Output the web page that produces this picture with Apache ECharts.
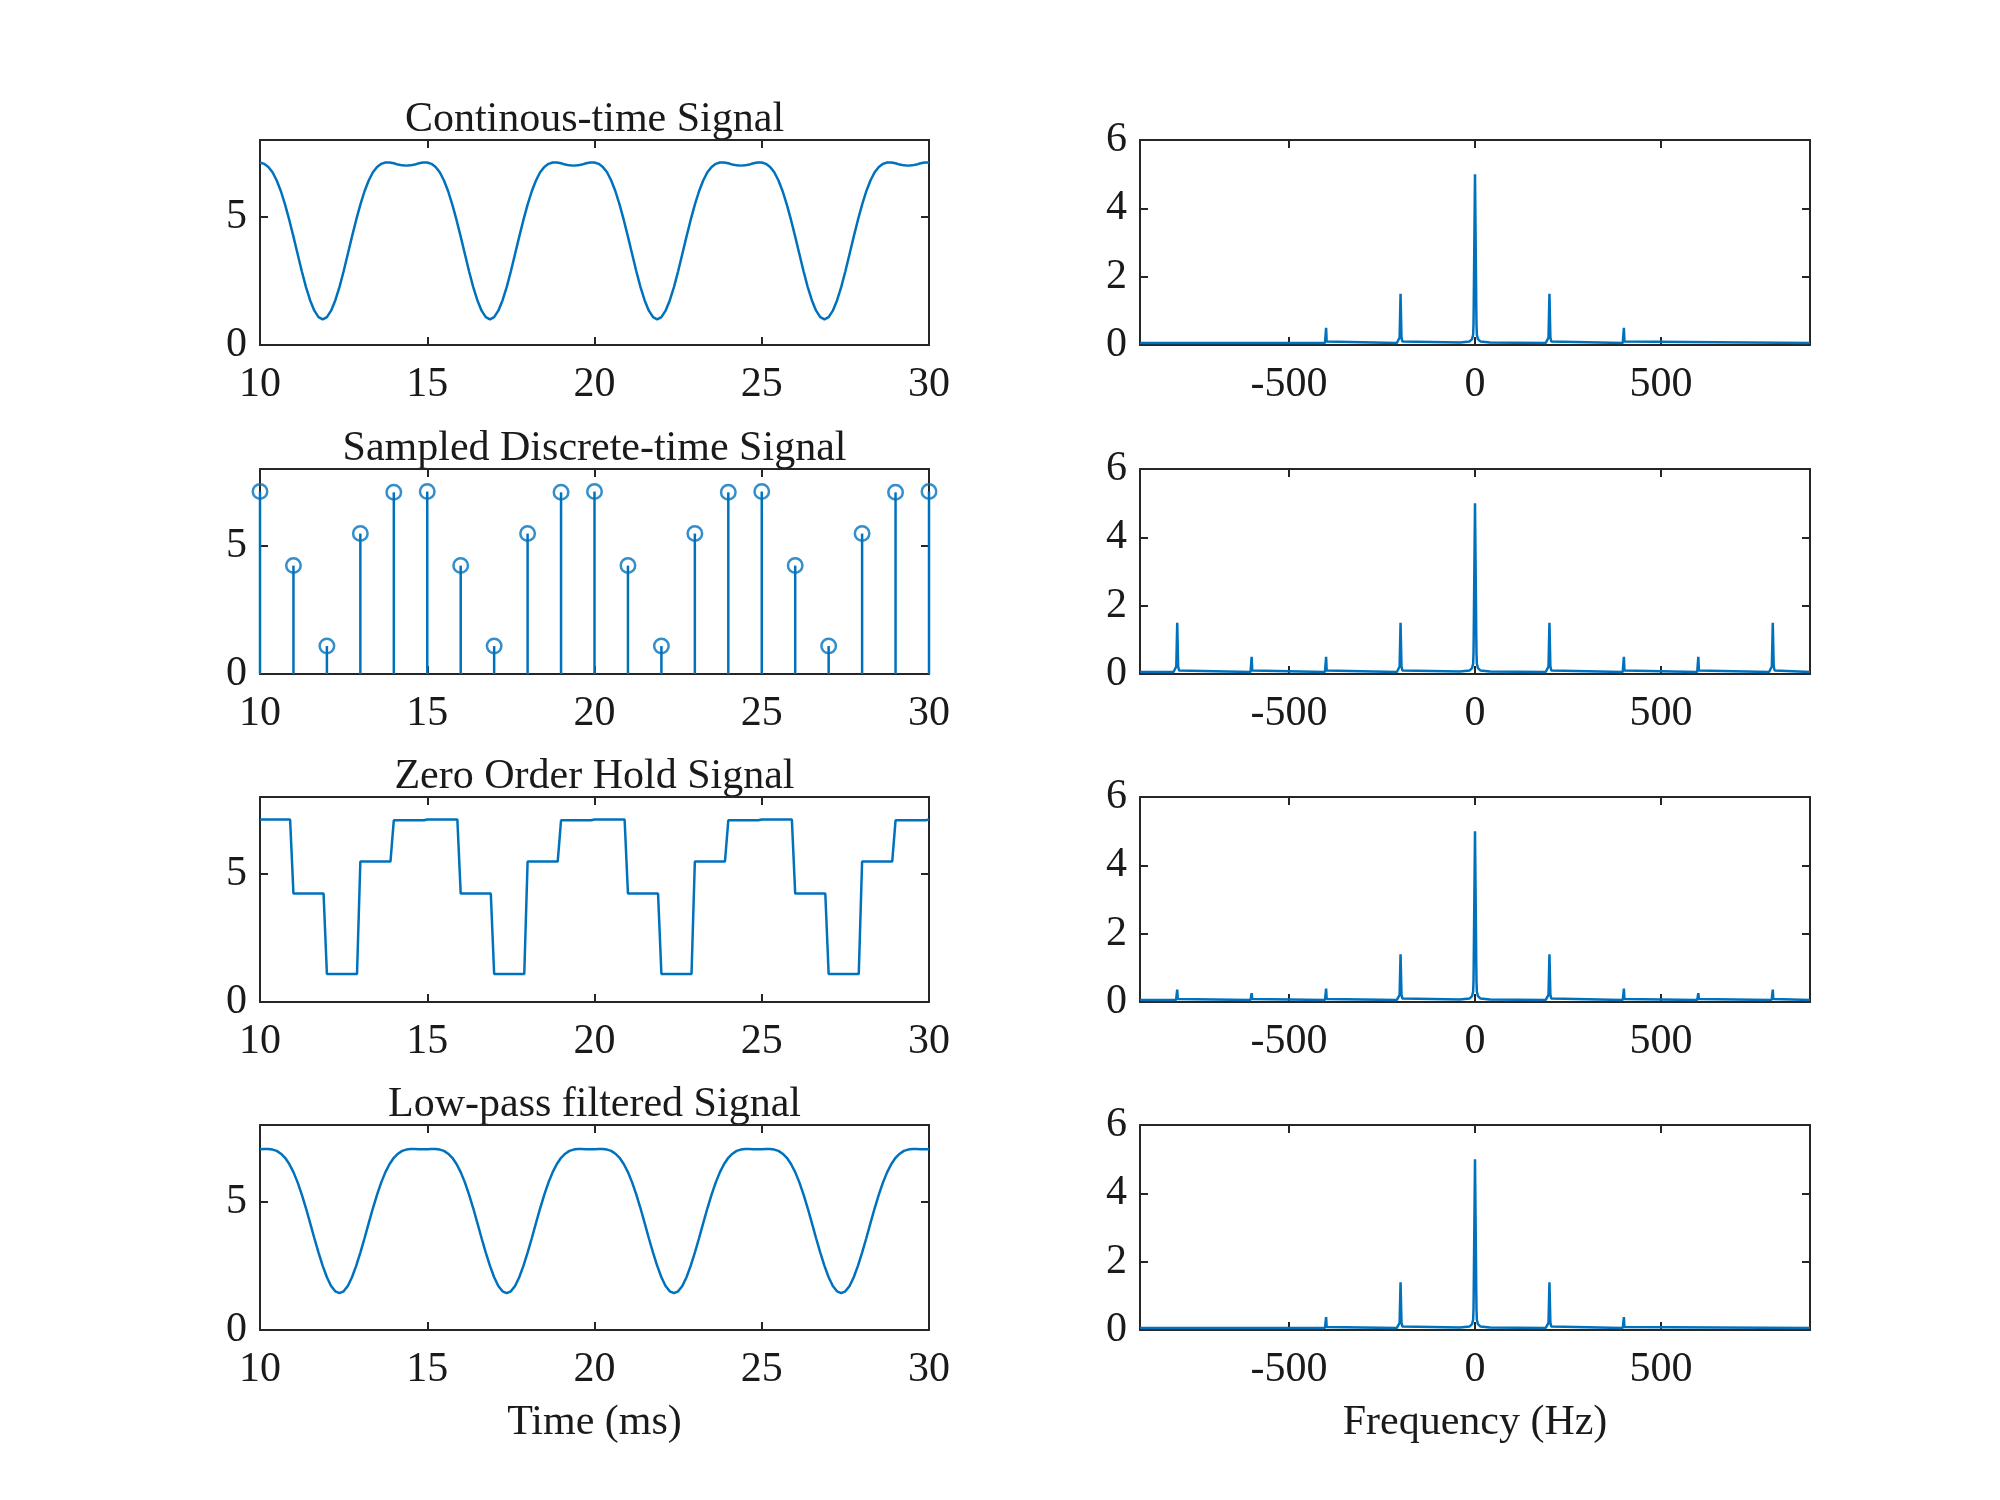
<!DOCTYPE html>
<html><head><meta charset="utf-8">
<script src="https://cdn.jsdelivr.net/npm/echarts@6/dist/echarts.min.js"></script>
<style>html,body{margin:0;padding:0;background:#fff}#c{width:2000px;height:1500px}</style>
</head><body><div id="c"></div>
<script>
// ---------- text ----------
const plotTitles = ['Continous-time Signal', 'Sampled Discrete-time Signal', 'Zero Order Hold Signal', 'Low-pass filtered Signal'];
const xLabelLeft = 'Time (ms)';
const xLabelRight = 'Frequency (Hz)';

// ---------- tick labels ----------
const timeTicks = [10, 15, 20, 25, 30];
const freqTicks = [-500, 0, 500];
const leftAmpTicks = [0, 5];
const rightAmpTicks = [0, 2, 4, 6];

// ---------- fine time grid (ms) shared by continuous and filtered signals ----------
const tFine = [
10,10.125,10.25,10.375,10.5,10.625,10.75,10.875,
11,11.125,11.25,11.375,11.5,11.625,11.75,11.875,
12,12.125,12.25,12.375,12.5,12.625,12.75,12.875,
13,13.125,13.25,13.375,13.5,13.625,13.75,13.875,
14,14.125,14.25,14.375,14.5,14.625,14.75,14.875,
15,15.125,15.25,15.375,15.5,15.625,15.75,15.875,
16,16.125,16.25,16.375,16.5,16.625,16.75,16.875,
17,17.125,17.25,17.375,17.5,17.625,17.75,17.875,
18,18.125,18.25,18.375,18.5,18.625,18.75,18.875,
19,19.125,19.25,19.375,19.5,19.625,19.75,19.875,
20,20.125,20.25,20.375,20.5,20.625,20.75,20.875,
21,21.125,21.25,21.375,21.5,21.625,21.75,21.875,
22,22.125,22.25,22.375,22.5,22.625,22.75,22.875,
23,23.125,23.25,23.375,23.5,23.625,23.75,23.875,
24,24.125,24.25,24.375,24.5,24.625,24.75,24.875,
25,25.125,25.25,25.375,25.5,25.625,25.75,25.875,
26,26.125,26.25,26.375,26.5,26.625,26.75,26.875,
27,27.125,27.25,27.375,27.5,27.625,27.75,27.875,
28,28.125,28.25,28.375,28.5,28.625,28.75,28.875,
29,29.125,29.25,29.375,29.5,29.625,29.75,29.875,
30];

// continuous-time signal values
const contV = [
7.12,7.07,6.95,6.74,6.42,6.00,5.48,4.88,4.23,3.55,2.88,2.26,1.74,1.34,1.09,1.00,1.09,1.34,1.74,2.26,
2.88,3.55,4.23,4.88,5.48,6.00,6.42,6.74,6.95,7.07,7.12,7.12,7.09,7.04,7.01,7.00,7.01,7.04,7.09,7.12,
7.12,7.07,6.95,6.74,6.42,6.00,5.48,4.88,4.23,3.55,2.88,2.26,1.74,1.34,1.09,1.00,1.09,1.34,1.74,2.26,
2.88,3.55,4.23,4.88,5.48,6.00,6.42,6.74,6.95,7.07,7.12,7.12,7.09,7.04,7.01,7.00,7.01,7.04,7.09,7.12,
7.12,7.07,6.95,6.74,6.42,6.00,5.48,4.88,4.23,3.55,2.88,2.26,1.74,1.34,1.09,1.00,1.09,1.34,1.74,2.26,
2.88,3.55,4.23,4.88,5.48,6.00,6.42,6.74,6.95,7.07,7.12,7.12,7.09,7.04,7.01,7.00,7.01,7.04,7.09,7.12,
7.12,7.07,6.95,6.74,6.42,6.00,5.48,4.88,4.23,3.55,2.88,2.26,1.74,1.34,1.09,1.00,1.09,1.34,1.74,2.26,
2.88,3.55,4.23,4.88,5.48,6.00,6.42,6.74,6.95,7.07,7.12,7.12,7.09,7.04,7.01,7.00,7.01,7.04,7.09,7.12,
7.12];

// low-pass filtered signal values
const lpfV = [
7.05,7.06,7.06,7.04,6.99,6.88,6.72,6.48,6.16,5.76,5.28,4.75,4.17,3.58,3.02,2.50,2.06,1.72,1.51,1.44,
1.51,1.72,2.06,2.50,3.02,3.58,4.17,4.75,5.28,5.76,6.16,6.48,6.72,6.88,6.99,7.04,7.06,7.06,7.05,7.05,
7.05,7.06,7.06,7.04,6.99,6.88,6.72,6.48,6.16,5.76,5.28,4.75,4.17,3.58,3.02,2.50,2.06,1.72,1.51,1.44,
1.51,1.72,2.06,2.50,3.02,3.58,4.17,4.75,5.28,5.76,6.16,6.48,6.72,6.88,6.99,7.04,7.06,7.06,7.05,7.05,
7.05,7.06,7.06,7.04,6.99,6.88,6.72,6.48,6.16,5.76,5.28,4.75,4.17,3.58,3.02,2.50,2.06,1.72,1.51,1.44,
1.51,1.72,2.06,2.50,3.02,3.58,4.17,4.75,5.28,5.76,6.16,6.48,6.72,6.88,6.99,7.04,7.06,7.06,7.05,7.05,
7.05,7.06,7.06,7.04,6.99,6.88,6.72,6.48,6.16,5.76,5.28,4.75,4.17,3.58,3.02,2.50,2.06,1.72,1.51,1.44,
1.51,1.72,2.06,2.50,3.02,3.58,4.17,4.75,5.28,5.76,6.16,6.48,6.72,6.88,6.99,7.04,7.06,7.06,7.05,7.05,
7.05];

// sampled discrete-time signal (1 ms sampling)
const sampleT = [10,11,12,13,14,15,16,17,18,19,20,21,22,23,24,25,26,27,28,29,30];
const sampleV = [7.12,4.23,1.09,5.48,7.09,7.12,4.23,1.09,5.48,7.09,7.12,4.23,1.09,5.48,7.09,7.12,4.23,1.09,5.48,7.09,7.12];

// zero-order hold signal vertices
const holdT = [10,10.9,11,11.9,12,12.9,13,13.9,14,14.9,15,15.9,16,16.9,17,17.9,18,18.9,19,19.9,
               20,20.9,21,21.9,22,22.9,23,23.9,24,24.9,25,25.9,26,26.9,27,27.9,28,28.9,29,29.9,30];
const holdV = [7.12,7.12,4.23,4.23,1.09,1.09,5.48,5.48,7.09,7.09,7.12,7.12,4.23,4.23,1.09,1.09,5.48,5.48,7.09,7.09,
               7.12,7.12,4.23,4.23,1.09,1.09,5.48,5.48,7.09,7.09,7.12,7.12,4.23,4.23,1.09,1.09,5.48,5.48,7.09,7.09,7.12];

// magnitude spectra (Hz, magnitude)
const spec1F = [-900, -403,-401.5,-400,-398.5,-397, -210,-205,-202.5,-200,-197.5,-195,-190,
  -40,-15,-8,-5,-4,-3.5, 0, 3.5,4,5,8,15,40,
  190,195,197.5,200,202.5,205,210, 397,398.5,400,401.5,403, 900];
const spec1M = [0.06, 0.06,0.1,0.5,0.1,0.06, 0.06,0.1,0.22,1.5,0.22,0.1,0.06,
  0.07,0.1,0.17,0.3,0.6,1.05, 5, 1.05,0.6,0.3,0.17,0.1,0.07,
  0.06,0.1,0.22,1.5,0.22,0.1,0.06, 0.06,0.1,0.5,0.1,0.06, 0.06];

const spec2F = [-900, -810,-805,-802.5,-800,-797.5,-795,-790, -603,-601.5,-600,-598.5,-597,
  -403,-401.5,-400,-398.5,-397, -210,-205,-202.5,-200,-197.5,-195,-190,
  -40,-15,-8,-5,-4,-3.5, 0, 3.5,4,5,8,15,40,
  190,195,197.5,200,202.5,205,210, 397,398.5,400,401.5,403, 597,598.5,600,601.5,603,
  790,795,797.5,800,802.5,805,810, 900];
const spec2M = [0.06, 0.06,0.1,0.22,1.5,0.22,0.1,0.06, 0.06,0.1,0.5,0.1,0.06,
  0.06,0.1,0.5,0.1,0.06, 0.06,0.1,0.22,1.5,0.22,0.1,0.06,
  0.07,0.1,0.17,0.3,0.6,1.05, 5, 1.05,0.6,0.3,0.17,0.1,0.07,
  0.06,0.1,0.22,1.5,0.22,0.1,0.06, 0.06,0.1,0.5,0.1,0.06, 0.06,0.1,0.5,0.1,0.06,
  0.06,0.1,0.22,1.5,0.22,0.1,0.06, 0.06];

const spec3F = [-900, -803,-801.5,-800,-798.5,-797, -603,-601.5,-600,-598.5,-597,
  -403,-401.5,-400,-398.5,-397, -210,-205,-202.5,-200,-197.5,-195,-190,
  -40,-15,-8,-5,-4,-3.5, 0, 3.5,4,5,8,15,40,
  190,195,197.5,200,202.5,205,210, 397,398.5,400,401.5,403, 597,598.5,600,601.5,603,
  797,798.5,800,801.5,803, 900];
const spec3M = [0.06, 0.06,0.09,0.36,0.09,0.06, 0.06,0.09,0.26,0.09,0.06,
  0.06,0.09,0.39,0.09,0.06, 0.06,0.1,0.21,1.4,0.21,0.1,0.06,
  0.07,0.1,0.17,0.3,0.6,1.05, 5, 1.05,0.6,0.3,0.17,0.1,0.07,
  0.06,0.1,0.21,1.4,0.21,0.1,0.06, 0.06,0.09,0.39,0.09,0.06, 0.06,0.09,0.26,0.09,0.06,
  0.06,0.09,0.36,0.09,0.06, 0.06];

const spec4F = [-900, -403,-401.5,-400,-398.5,-397, -210,-205,-202.5,-200,-197.5,-195,-190,
  -40,-15,-8,-5,-4,-3.5, 0, 3.5,4,5,8,15,40,
  190,195,197.5,200,202.5,205,210, 397,398.5,400,401.5,403, 900];
const spec4M = [0.06, 0.06,0.09,0.38,0.09,0.06, 0.06,0.1,0.21,1.4,0.21,0.1,0.06,
  0.07,0.1,0.17,0.3,0.6,1.05, 5, 1.05,0.6,0.3,0.17,0.1,0.07,
  0.06,0.1,0.21,1.4,0.21,0.1,0.06, 0.06,0.09,0.38,0.09,0.06, 0.06];

// ---------- layout & style ----------
const FONT = "'Liberation Serif','Times New Roman',Times,serif";
const AX = '#262626';
const TXT = '#1a1a1a';
const BLUE = '#0072BD';
const rowTops = [140, 469, 797, 1125];
const rowH = 205;
const cols = [{left: 260, width: 669, cx: 594.5}, {left: 1140, width: 670, cx: 1475}];
const TICK_FS = 42, TITLE_FS = 42;

const pairs = (xs, ys) => xs.map((x, k) => [x, ys[k]]);

const grid = [], xAxis = [], yAxis = [];
function mkAxis(i, pos, range, labels, isX) {
  return {
    type: 'value', gridIndex: i, position: pos,
    min: range.min, max: range.max, interval: range.interval,
    axisLine: {show: true, onZero: false, lineStyle: {color: AX, width: 2}},
    axisTick: {show: true, inside: true, length: 8, lineStyle: {color: AX, width: 2}, customValues: range.ticks},
    axisLabel: {show: labels, customValues: range.ticks, margin: isX ? 19 : 13,
      padding: isX ? 0 : [8, 0, 0, 0],
      fontSize: TICK_FS, fontFamily: FONT, color: TXT,
      formatter: v => String(v)},
    splitLine: {show: false}, splitArea: {show: false}
  };
}
for (let r = 0; r < 4; r++) {
  for (let c = 0; c < 2; c++) {
    const i = r * 2 + c;
    grid.push({left: cols[c].left, top: rowTops[r], width: cols[c].width, height: rowH, containLabel: false, outerBoundsMode: 'none'});
    const xr = c === 0 ? {min: 10, max: 30, interval: 5, ticks: timeTicks} : {min: -900, max: 900, interval: 500, ticks: freqTicks};
    const yr = c === 0 ? {min: 0, max: 8, interval: 5, ticks: leftAmpTicks} : {min: 0, max: 6, interval: 2, ticks: rightAmpTicks};
    xAxis.push(mkAxis(i, 'bottom', xr, true, true));
    xAxis.push(mkAxis(i, 'top', xr, false, true));
    yAxis.push(mkAxis(i, 'left', yr, true, false));
    yAxis.push(mkAxis(i, 'right', yr, false, false));
  }
}

const LW = 2.5;
const lineS = (idx, data) => ({
  type: 'line', xAxisIndex: idx, yAxisIndex: idx, data: data,
  showSymbol: false, symbol: 'none', smooth: false,
  lineStyle: {color: BLUE, width: LW}, itemStyle: {color: BLUE},
  silent: true, z: 3
});

const series = [
  lineS(0, pairs(tFine, contV)),
  lineS(2, pairs(spec1F, spec1M)),
  {
    type: 'custom', xAxisIndex: 4, yAxisIndex: 4, data: pairs(sampleT, sampleV),
    encode: {x: 0, y: 1}, clip: false, silent: true, z: 3,
    renderItem: (params, api) => {
      const top = api.coord([api.value(0), api.value(1)]);
      const base = api.coord([api.value(0), 0]);
      return {type: 'line', shape: {x1: base[0], y1: base[1], x2: top[0], y2: top[1]},
              style: {stroke: BLUE, lineWidth: LW}};
    }
  },
  {
    type: 'scatter', xAxisIndex: 4, yAxisIndex: 4, data: pairs(sampleT, sampleV),
    symbol: 'circle', symbolSize: 14.5, clip: false, silent: true, z: 4,
    itemStyle: {color: 'rgba(0,0,0,0)', borderColor: BLUE, borderWidth: LW}
  },
  lineS(6, pairs(spec2F, spec2M)),
  lineS(8, pairs(holdT, holdV)),
  lineS(10, pairs(spec3F, spec3M)),
  lineS(12, pairs(tFine, lpfV)),
  lineS(14, pairs(spec4F, spec4M))
];

const graphic = [];
plotTitles.forEach((t, r) => {
  graphic.push({type: 'text', x: cols[0].cx, y: rowTops[r] - 20.5, silent: true,
    style: {text: t, fontSize: TITLE_FS, fontFamily: FONT, fill: TXT, align: 'center', verticalAlign: 'middle'}});
});
graphic.push({type: 'text', x: cols[0].cx, y: 1422.5, silent: true,
  style: {text: xLabelLeft, fontSize: TITLE_FS, fontFamily: FONT, fill: TXT, align: 'center', verticalAlign: 'middle'}});
graphic.push({type: 'text', x: cols[1].cx, y: 1422.5, silent: true,
  style: {text: xLabelRight, fontSize: TITLE_FS, fontFamily: FONT, fill: TXT, align: 'center', verticalAlign: 'middle'}});

const chart = echarts.init(document.getElementById('c'), null, {renderer: 'canvas', width: 2000, height: 1500});
chart.setOption({
  backgroundColor: '#ffffff',
  animation: false,
  tooltip: {show: false},
  legend: {show: false},
  grid, xAxis, yAxis, series, graphic
});
</script>
</body></html>
